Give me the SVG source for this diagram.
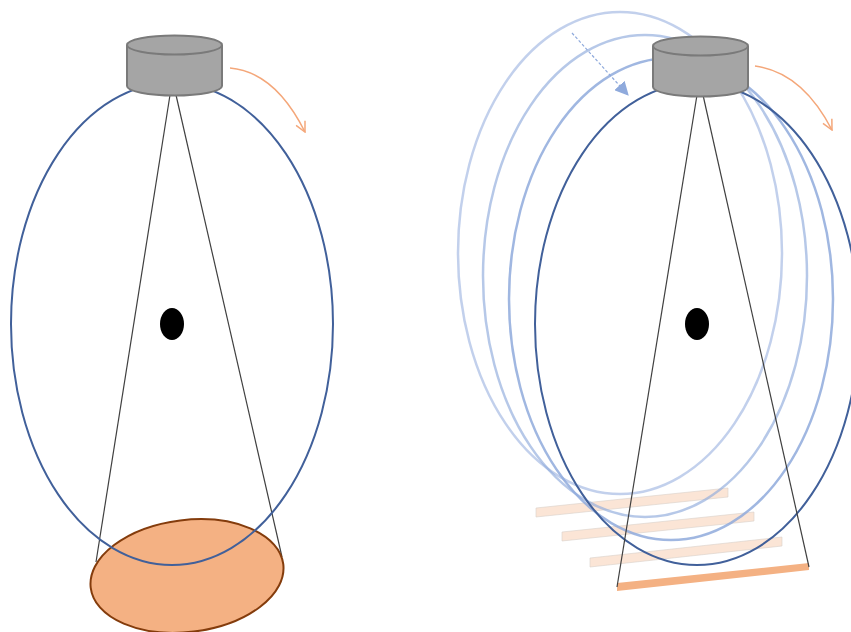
<svg xmlns="http://www.w3.org/2000/svg" width="851" height="632" viewBox="0 0 851 632">
  <defs>
    <style>
      .orbit { fill: none; stroke: #41609a; stroke-width: 2; }
      .orbit-ghost { fill: none; stroke: #8faadc; stroke-width: 2.5; }
      .ray { fill: none; stroke: #404040; stroke-width: 1.2; }
      .iso { fill: #000; }
      .cyl { fill: #a5a5a5; stroke: #7a7a7a; stroke-width: 2; }
      .spin { fill: none; stroke: #f4a77a; stroke-width: 1.5; }
      .slice-ghost { fill: #fbe5d6; stroke: #d9d0ca; stroke-width: 0.6; }
    </style>
    <marker id="openHead" viewBox="0 0 12 12" refX="11" refY="6" markerWidth="12" markerHeight="12" markerUnits="userSpaceOnUse" orient="auto">
      <path d="M1,1 L11,6 L1,11" fill="none" stroke="#f4a77a" stroke-width="1.5"/>
    </marker>
    <marker id="solidHead" viewBox="0 0 12 12" refX="11" refY="6" markerWidth="14" markerHeight="14" markerUnits="userSpaceOnUse" orient="auto">
      <path d="M0,0 L12,6 L0,12 Z" fill="#8faadc"/>
    </marker>
  </defs>

  <!-- Left: single rotation with cone-beam footprint -->
  <g id="left-panel">
    <g id="left-rays">
      <line class="ray" x1="170" y1="95" x2="96" y2="562" stroke="#595959"/>
      <line class="ray" x1="176" y1="95" x2="282" y2="557"/>
    </g>
    <g id="left-footprint">
      <ellipse cx="187" cy="576" rx="97" ry="56" transform="rotate(-7 187 576)" fill="#f4b183" stroke="#843c0c" stroke-width="2"/>
    </g>
    <g id="left-orbit">
      <ellipse class="orbit" cx="172" cy="324" rx="161" ry="241"/>
    </g>
    <g id="left-iso">
      <ellipse class="iso" cx="172" cy="324" rx="12" ry="16"/>
    </g>
    <g id="left-source">
      <path class="cyl" d="M127,45 L127,86 A47.5,9.5 0 0 0 222,86 L222,45"/>
      <ellipse class="cyl" cx="174.5" cy="45" rx="47.5" ry="9.5"/>
    </g>
    <g id="left-rotation">
      <path class="spin" d="M230,68 Q275,72 305,132" marker-end="url(#openHead)"/>
    </g>
  </g>

  <!-- Right: helical motion with stacked slices -->
  <g id="right-panel">
    <g id="right-slices">
      <polygon class="slice-ghost" points="536,508 728,488 728,497 536,517"/>
      <polygon class="slice-ghost" points="562,532 754,512 754,521 562,541"/>
      <polygon class="slice-ghost" points="590,558 782,537 782,546 590,567"/>
      <polygon points="617,583 809,563 809,570 617,591" fill="#f4b183"/>
    </g>
    <g id="right-orbits">
      <ellipse class="orbit-ghost" cx="620" cy="253" rx="162" ry="241" opacity="0.55"/>
      <ellipse class="orbit-ghost" cx="645" cy="276" rx="162" ry="241" opacity="0.65"/>
      <ellipse class="orbit-ghost" cx="671" cy="299" rx="162" ry="241" opacity="0.85"/>
      <ellipse class="orbit" cx="697" cy="324" rx="162" ry="241"/>
    </g>
    <g id="right-rays">
      <line class="ray" x1="697" y1="95" x2="617" y2="587" stroke="#262626"/>
      <line class="ray" x1="703" y1="95" x2="809" y2="567" stroke="#595959"/>
    </g>
    <g id="right-iso">
      <ellipse class="iso" cx="697" cy="324" rx="12" ry="16"/>
    </g>
    <g id="right-source">
      <path class="cyl" d="M653,46 L653,87 A47.5,9.5 0 0 0 748,87 L748,46"/>
      <ellipse class="cyl" cx="700.5" cy="46" rx="47.5" ry="9.5"/>
    </g>
    <g id="right-rotation">
      <path class="spin" d="M755,66 Q802,72 832,130" marker-end="url(#openHead)"/>
    </g>
    <g id="right-feed">
      <line x1="572" y1="33" x2="628" y2="95" stroke="#8faadc" stroke-width="1.2" stroke-dasharray="3,2" marker-end="url(#solidHead)"/>
    </g>
  </g>
</svg>
